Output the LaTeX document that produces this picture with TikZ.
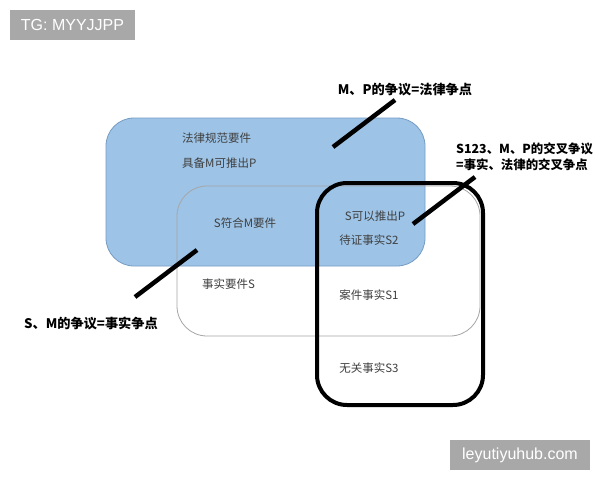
\documentclass[tikz,border=0pt]{standalone}
\usepackage{fontspec}
\setmainfont{Noto Sans CJK SC}
\newfontfamily\wmfont{Liberation Sans}
\definecolor{blueFill}{RGB}{157,195,230}
\definecolor{blueEdge}{RGB}{118,156,196}
\definecolor{wmGray}{RGB}{168,168,168}
\definecolor{txtGray}{RGB}{64,64,64}
\tikzset{
  region/.style={rounded corners=28pt, inner sep=0pt},
  intext/.style={font=\fontsize{11.5}{13}\selectfont, text=txtGray, inner sep=0pt},
  lbl/.style={font=\fontsize{13.2}{16}\selectfont\bfseries, text=black, inner sep=0pt, align=left},
  lblsmall/.style={lbl, font=\fontsize{12.4}{15}\selectfont\bfseries},
  leader/.style={line width=4.5pt, black},
  wm/.style={fill=wmGray, text=white, font=\wmfont\fontsize{16}{18}\selectfont, inner sep=0pt}
}
\begin{document}
\begin{tikzpicture}[x=1pt,y=-1pt]
\useasboundingbox (0,0) rectangle (600,480);
\fill[white] (0,0) rectangle (600,480);
% watermarks
\node[wm, minimum width=125pt, minimum height=30pt] (tg) at (72.5,25) {TG: MYYJJPP};
\node[wm, minimum width=140pt, minimum height=30pt] (site) at (520,455) {leyutiyuhub.com};
% outer blue region
\node[region, draw=blueEdge, fill=blueFill, line width=0.8pt, minimum width=319pt, minimum height=148pt] (law) at (265.5,192) {};
% fact region (border only)
\node[region, draw=gray!70, line width=0.8pt, minimum width=303pt, minimum height=150pt, rounded corners=30pt] (fact) at (328.5,261) {};
% black frame
\node[region, draw=black, line width=4pt, minimum width=166pt, minimum height=222pt, rounded corners=30pt] (frame) at (400,294) {};
% inner texts
\node[intext, anchor=west] (t1) at (182,138) {法律规范要件};
\node[intext, anchor=west] (t2) at (182,163) {具备M可推出P};
\node[intext] (t3) at (245,223) {S符合M要件};
\node[intext] (t4) at (375,216) {S可以推出P};
\node[intext] (t5) at (369,240) {待证事实S2};
\node[intext, anchor=west] (t6) at (202,284) {事实要件S};
\node[intext] (t7) at (369,295) {案件事实S1};
\node[intext] (t8) at (369,368) {无关事实S3};
% labels
\node[lbl] (L1) at (405,90) {M、P的争议=法律争点};
\node[lblsmall, anchor=west] (L2a) at (456,149) {S123、M、P的交叉争议};
\node[lblsmall, anchor=west] (L2b) at (456,165) {=事实、法律的交叉争点};
\node[lbl] (L3) at (91,323) {S、M的争议=事实争点};
% leader lines
\coordinate (a1) at (395,100); \coordinate (b1) at (333,147);
\coordinate (a2) at (475,177); \coordinate (b2) at (413,224);
\coordinate (a3) at (197,250); \coordinate (b3) at (135,297);
\draw[leader] (a1) -- (b1);
\draw[leader] (a2) -- (b2);
\draw[leader] (a3) -- (b3);
\end{tikzpicture}
\end{document}
